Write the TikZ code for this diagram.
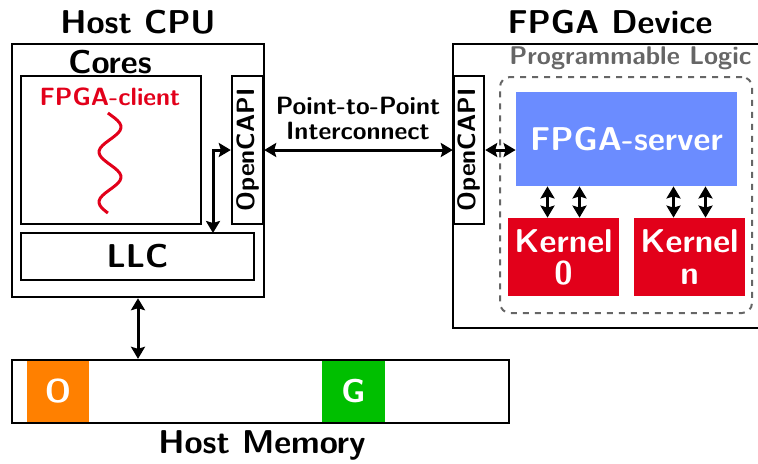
\documentclass[tikz,border=0pt]{standalone}
\usetikzlibrary{positioning, arrows.meta}
\definecolor{kred}{HTML}{E2001A}
\definecolor{sblue}{HTML}{6B8CFF}
\definecolor{morange}{HTML}{FF8000}
\definecolor{mgreen}{HTML}{00BF00}
\definecolor{pgray}{HTML}{666666}
\tikzset{>={Stealth[length=6pt, width=7pt, inset=1pt]}}

\begin{document}
\begin{tikzpicture}[x=0.5pt, y=-0.5pt,
    box/.style={draw, line width=1.2pt, inner sep=0pt},
    fillbox/.style={inner sep=0pt, text=white},
    big/.style={font=\fontsize{16.5}{16}\selectfont\sffamily\bfseries},
    small/.style={font=\fontsize{12.5}{12.5}\selectfont\sffamily\bfseries},
    link/.style={<->, line width=1.5pt}]
    \useasboundingbox (0,0) rectangle (758,463);
    % host side
    \node[box, minimum width=126pt, minimum height=126.5pt] (host) at (138,170.5) {};
    \node[big] (hosttitle) at (138,22) {Host CPU};
    \node[big] (corestitle) at (110,62) {Cores};
    \node[box, minimum width=90pt, minimum height=74pt] (cores) at (111,150) {};
    \node[small, text=kred] (client) at (110,97) {FPGA-client};
    \draw[kred, line width=1.5pt] plot[smooth, domain=0:100, samples=41] ({110+11*sin(7.2*\x-11)}, {113+\x});
    \node[box, minimum width=15.5pt, minimum height=74pt] (capiL) at (247.5,150) {};
    \node[small, rotate=90] (capiLtxt) at (capiL) {OpenCAPI};
    \node[box, big, minimum width=116.5pt, minimum height=23.5pt] (llc) at (137.5,256.5) {LLC};
    % host memory
    \node[fillbox, big, fill=morange, minimum width=31pt, minimum height=31.5pt] (oblk) at (58,391.5) {O};
    \node[fillbox, big, fill=mgreen, minimum width=31.5pt, minimum height=31.5pt] (gblk) at (353.5,391.5) {G};
    \node[box, minimum width=248.5pt, minimum height=31.5pt] (mem) at (260.5,391.5) {};
    \node[big] (memtitle) at (262,445) {Host Memory};
    % fpga side
    \node[box, minimum width=163.5pt, minimum height=142pt] (fpga) at (616.5,186) {};
    \node[big] (fpgatitle) at (610,22) {FPGA Device};
    \node[box, minimum width=15pt, minimum height=74pt] (capiR) at (469,150) {};
    \node[small, rotate=90] (capiRtxt) at (capiR) {OpenCAPI};
    \node[font=\fontsize{12.8}{13}\selectfont\sffamily\bfseries, text=pgray, anchor=west, inner sep=0pt] (progtitle) at (509,58) {Programmable Logic};
    \node[draw=pgray, dashed, line width=1pt, rounded corners=5pt, minimum width=126pt, minimum height=118pt] (prog) at (626,195) {};
    \node[fillbox, big, fill=sblue, minimum width=110.5pt, minimum height=47pt] (server) at (626.5,139) {FPGA-server};
    \node[fillbox, big, fill=kred, align=center, minimum width=55.5pt, minimum height=39pt] (k0) at (563.5,257) {Kernel\\0};
    \node[fillbox, big, fill=kred, align=center, minimum width=55.5pt, minimum height=39pt] (kn) at (689.5,257) {Kernel\\n};
    % links
    \node[small, align=center] (ptp) at (358,118) {Point-to-Point\\Interconnect};
    \draw[link] (capiL.east) -- (capiR.west);
    \draw[link] (capiR.east) -- (capiR.east -| server.west);
    \coordinate (hook) at (213,233);
    \draw[link] (capiL.west) -| (hook);
    \draw[link] (host.south) -- (host.south |- mem.north);
    \foreach \k in {k0,kn}
    \foreach \dx in {-8pt,8pt}
    \draw[link] ([xshift=\dx]\k.north) -- ([xshift=\dx]\k.north |- server.south);
\end{tikzpicture}
\end{document}
